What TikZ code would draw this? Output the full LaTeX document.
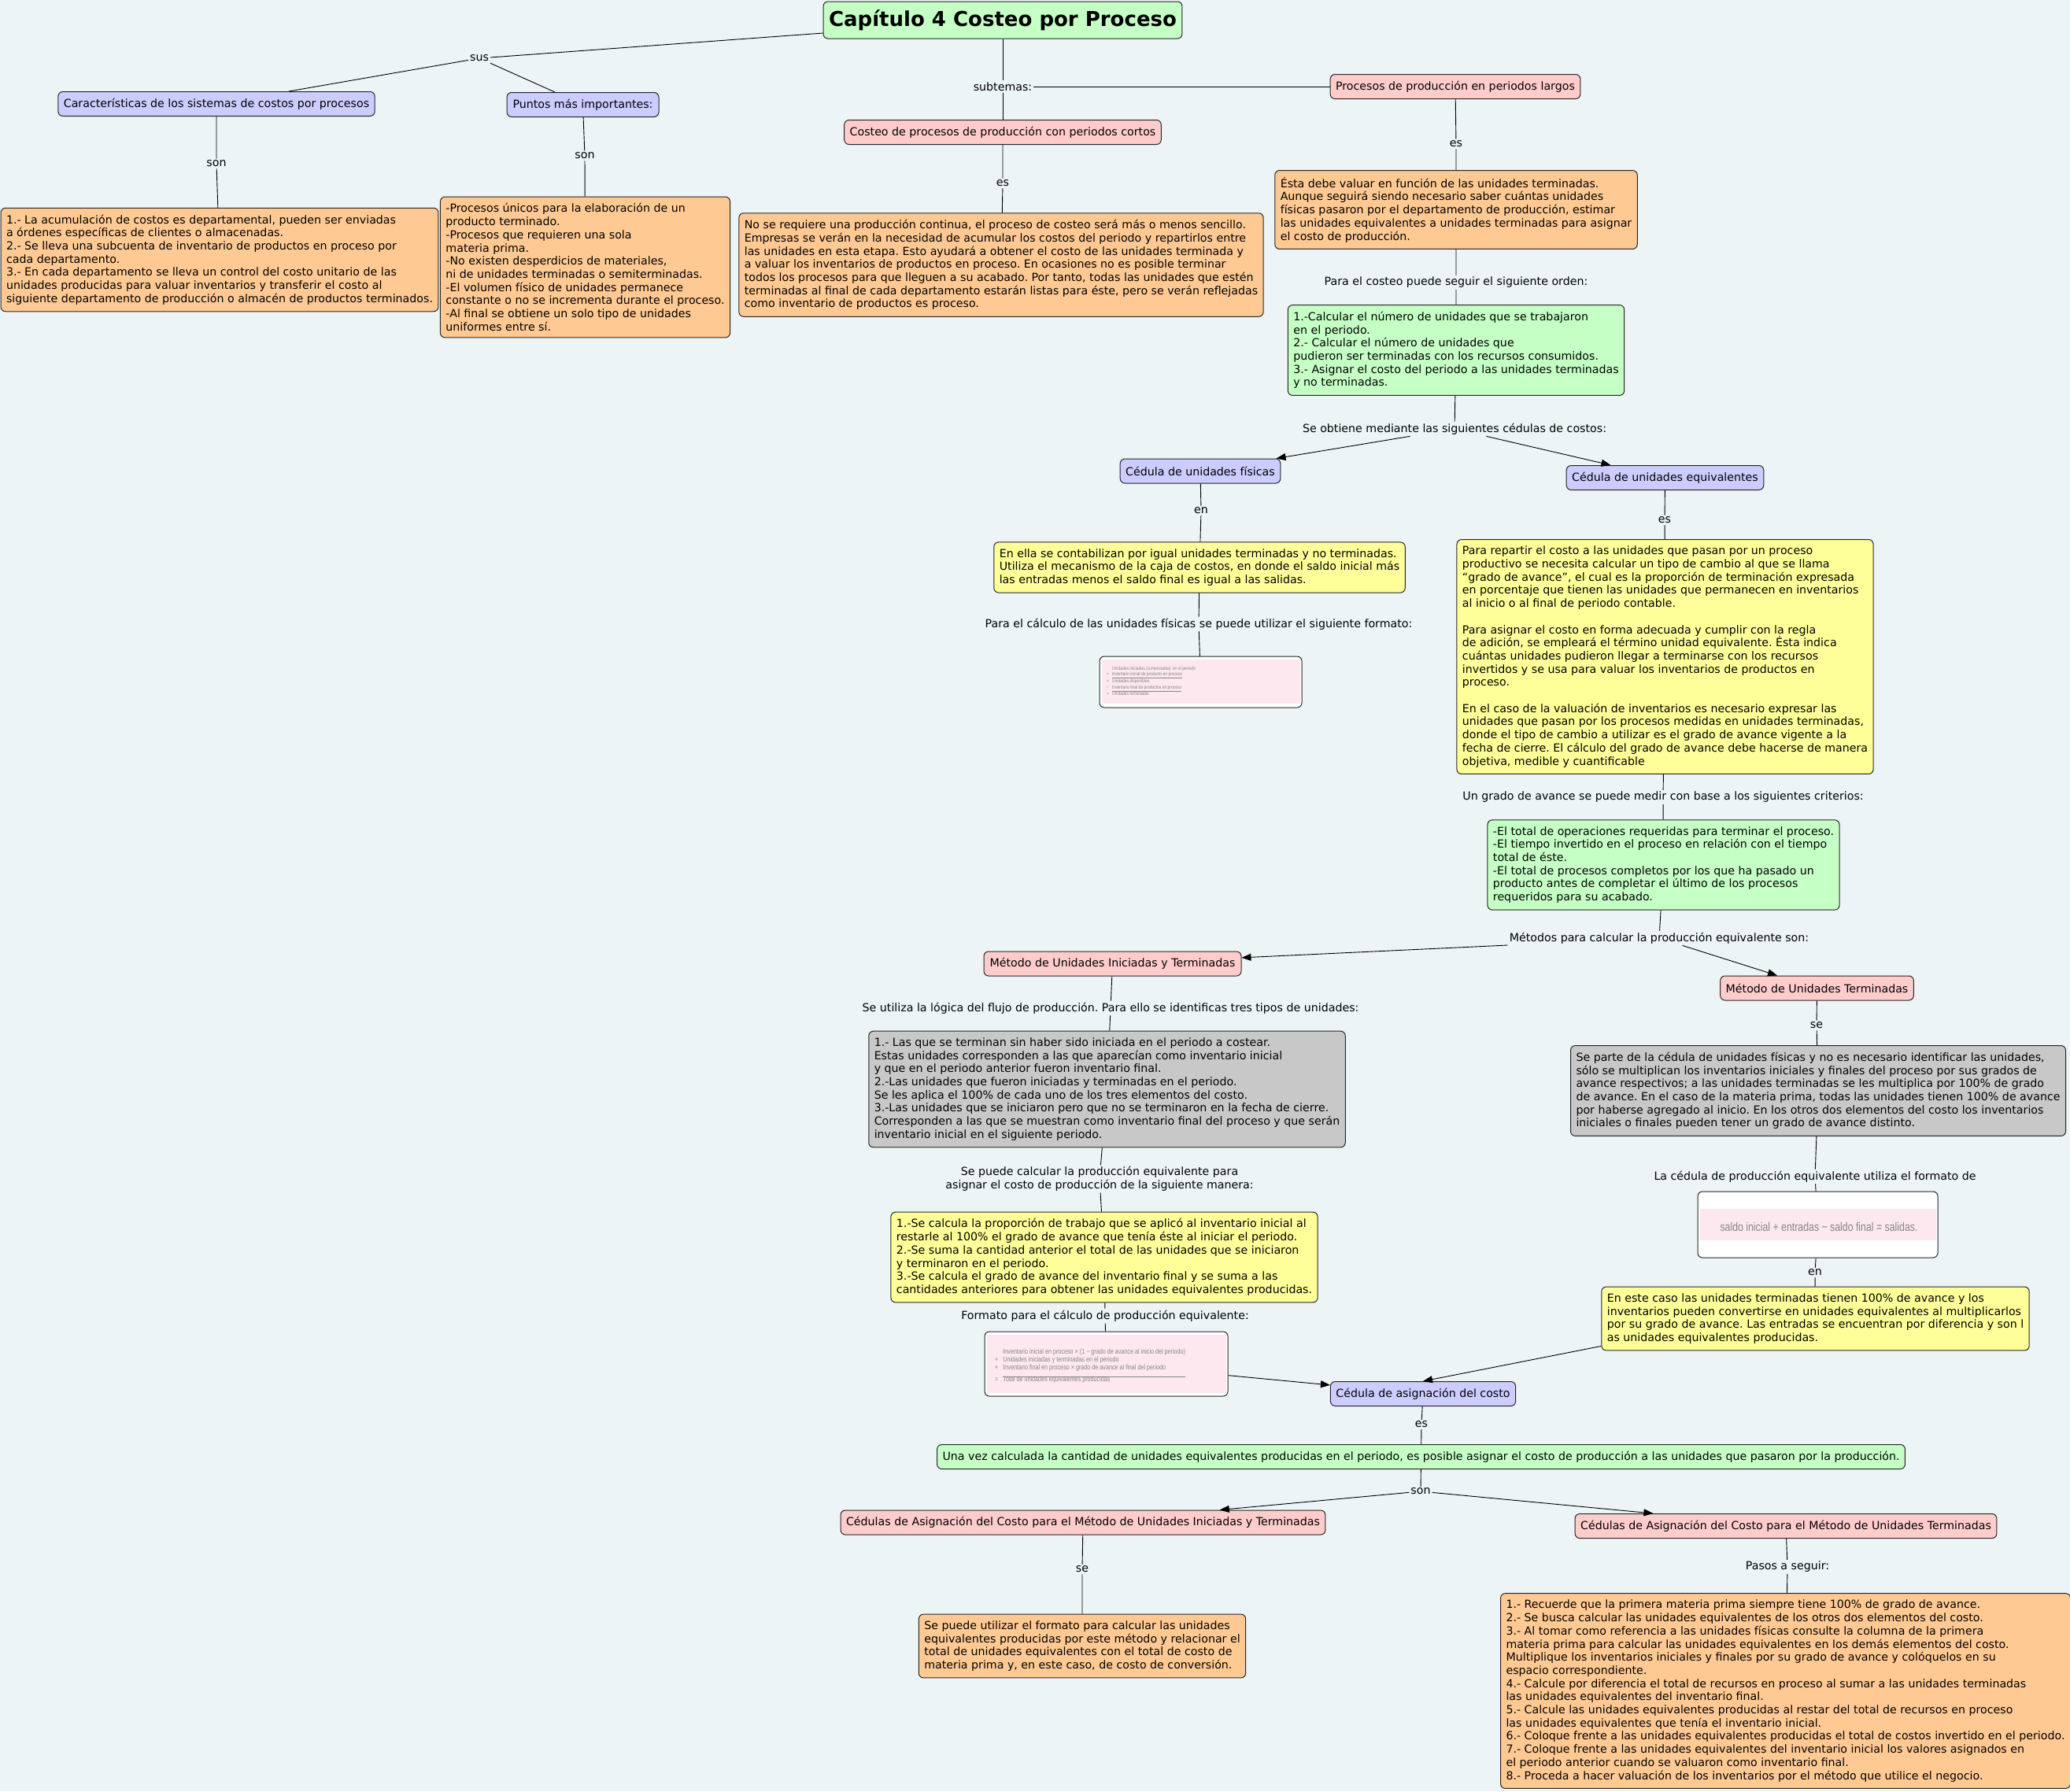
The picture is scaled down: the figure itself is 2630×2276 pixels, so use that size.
\documentclass[tikz,border=0pt]{standalone}
\usepackage{fontspec}
\setmainfont{DejaVu Sans}
\newfontfamily\imgfont[FakeStretch=0.8]{Liberation Sans}
\usetikzlibrary{arrows.meta}
\definecolor{cFondo}{RGB}{236,244,245}
\definecolor{cVerde}{RGB}{197,255,197}
\definecolor{cLila}{RGB}{204,204,255}
\definecolor{cRosa}{RGB}{255,204,204}
\definecolor{cNaranja}{RGB}{255,201,147}
\definecolor{cAmarillo}{RGB}{255,255,153}
\definecolor{cGris}{RGB}{200,200,200}
\definecolor{cRosaImg}{RGB}{252,232,238}
\definecolor{cGrisImg}{RGB}{135,135,135}
\frenchspacing
\begin{document}
\begin{tikzpicture}[x=1pt,y=-1pt,>={Triangle[length=12pt,width=9pt]},
 font={\fontsize{14.2}{16.7}\selectfont},
 caja/.style={draw=black!85,line width=1pt,rounded corners=6pt,inner xsep=7pt,inner ysep=8.5pt,align=left},
 una/.style={align=center,inner ysep=3pt,minimum height=31pt},
 verde/.style={caja,fill=cVerde},lila/.style={caja,fill=cLila},rosa/.style={caja,fill=cRosa},
 naranja/.style={caja,fill=cNaranja},amarillo/.style={caja,fill=cAmarillo},gris/.style={caja,fill=cGris},
 imagen/.style={draw=black!85,line width=1pt,rounded corners=6pt,fill=white},
 imgtexto/.style={text=cGrisImg,inner sep=0pt},
 frase/.style={inner sep=2pt,align=center},
 enlace/.style={line width=0.9pt}]
\fill[cFondo](0,0)rectangle(2630,2276);\useasboundingbox(0,0)rectangle(2630,2276);

\node[verde,font={\fontsize{26}{30}\selectfont\bfseries},minimum width=454pt,minimum height=47pt,inner ysep=2pt] (titulo) at (1274,25.5) {Capítulo 4 Costeo por Proceso};
\node[frase] (sus) at (609,74) {sus};
\node[lila,una,minimum width=400pt] (caract) at (275,132) {Características de los sistemas de costos por procesos};
\node[lila,una,minimum width=193pt] (puntos) at (740.5,133) {Puntos más importantes:};
\node[frase] (son1) at (275,208) {son};\node[frase] (son2) at (743,198) {son};
\node[naranja] (lista1) at (279,330) {1.- La acumulación de costos es departamental, pueden ser enviadas\\a órdenes específicas de clientes o almacenadas.\\2.- Se lleva una subcuenta de inventario de productos en proceso por\\cada departamento.\\3.- En cada departamento se lleva un control del costo unitario de las\\unidades producidas para valuar inventarios y transferir el costo al\\siguiente departamento de producción o almacén de productos terminados.};
\node[naranja] (lista2) at (743.5,339.5) {-Procesos únicos para la elaboración de un\\producto terminado.\\-Procesos que requieren una sola\\materia prima.\\-No existen desperdicios de materiales,\\ni de unidades terminadas o semiterminadas.\\-El volumen físico de unidades permanece\\constante o no se incrementa durante el proceso.\\-Al final se obtiene un solo tipo de unidades\\uniformes entre sí.};

\node[frase] (subtemas) at (1274,110) {subtemas:};
\node[rosa,una,minimum width=398pt] (cortos) at (1274,168) {Costeo de procesos de producción con periodos cortos};
\node[frase] (es1) at (1274,233) {es};
\node[naranja] (cortosdef) at (1272,336.5) {No se requiere una producción continua, el proceso de costeo será más o menos sencillo.\\Empresas se verán en la necesidad de acumular los costos del periodo y repartirlos entre\\las unidades en esta etapa. Esto ayudará a obtener el costo de las unidades terminada y\\a valuar los inventarios de productos en proceso. En ocasiones no es posible terminar\\todos los procesos para que lleguen a su acabado. Por tanto, todas las unidades que estén\\terminadas al final de cada departamento estarán listas para éste, pero se verán reflejadas\\como inventario de productos es proceso.};
\node[rosa,una,minimum width=314pt] (largos) at (1849,110) {Procesos de producción en periodos largos};
\node[frase] (es2) at (1850,183) {es};
\node[naranja] (largosdef) at (1850,266.5) {Ésta debe valuar en función de las unidades terminadas.\\Aunque seguirá siendo necesario saber cuántas unidades\\físicas pasaron por el departamento de producción, estimar\\las unidades equivalentes a unidades terminadas para asignar\\el costo de producción.};
\node[frase] (orden) at (1850,359) {Para el costeo puede seguir el siguiente orden:};
\node[verde] (pasoslargos) at (1850,445) {1.-Calcular el número de unidades que se trabajaron\\en el periodo.\\2.- Calcular el número de unidades que\\pudieron ser terminadas con los recursos consumidos.\\3.- Asignar el costo del periodo a las unidades terminadas\\y no terminadas.};
\node[frase] (cedulas) at (1848,545) {Se obtiene mediante las siguientes cédulas de costos:};

\node[lila,una,minimum width=198pt] (fisicas) at (1525,598.5) {Cédula de unidades físicas};
\node[frase] (en1) at (1526,649) {en};
\node[amarillo] (fisicasdef) at (1524,721) {En ella se contabilizan por igual unidades terminadas y no terminadas.\\Utiliza el mecanismo de la caja de costos, en donde el saldo inicial más\\las entradas menos el saldo final es igual a las salidas.};
\node[frase] (formato1) at (1523,793) {Para el cálculo de las unidades físicas se puede utilizar el siguiente formato:};
\node[imagen,minimum width=257pt,minimum height=65pt] (img1) at (1525.5,866.5) {};
\fill[cRosaImg]([xshift=3pt,yshift=-4pt]img1.north west)rectangle([xshift=-3pt,yshift=6pt]img1.south east);
\node[imgtexto,anchor=west,font={\imgfont\fontsize{6.2}{7.5}\selectfont}] (img1txt) at (1406,866) {\begin{tabular}{@{}l@{\hspace{4pt}}l@{}}&Unidades iniciadas (comenzadas)\ \ en el periodo\\+&\underline{Inventario inicial de producto en proceso}\\=&Unidades disponibles\\−&\underline{Inventario final de productos en proceso}\\=&Unidades terminadas\end{tabular}};

\node[lila,una,minimum width=245pt] (equiv) at (2115.5,607) {Cédula de unidades equivalentes};
\node[frase] (es3) at (2115,661) {es};
\node[amarillo] (equivdef) at (2115.5,834.5) {Para repartir el costo a las unidades que pasan por un proceso\\productivo se necesita calcular un tipo de cambio al que se llama\\“grado de avance”, el cual es la proporción de terminación expresada\\en porcentaje que tienen las unidades que permanecen en inventarios\\al inicio o al final de periodo contable.\\[16.7pt]Para asignar el costo en forma adecuada y cumplir con la regla\\de adición, se empleará el término unidad equivalente. Ésta indica\\cuántas unidades pudieron llegar a terminarse con los recursos\\invertidos y se usa para valuar los inventarios de productos en\\proceso.\\[16.7pt]En el caso de la valuación de inventarios es necesario expresar las\\unidades que pasan por los procesos medidas en unidades terminadas,\\donde el tipo de cambio a utilizar es el grado de avance vigente a la\\fecha de cierre. El cálculo del grado de avance debe hacerse de manera\\objetiva, medible y cuantificable};
\node[frase] (criterios) at (2113,1013) {Un grado de avance se puede medir con base a los siguientes criterios:};
\node[verde] (criterioslista) at (2113.5,1099) {-El total de operaciones requeridas para terminar el proceso.\\-El tiempo invertido en el proceso en relación con el tiempo\\total de éste.\\-El total de procesos completos por los que ha pasado un\\producto antes de completar el último de los procesos\\requeridos para su acabado.};
\node[frase] (metodos) at (2108,1192) {Métodos para calcular la producción equivalente son:};

\node[rosa,una,minimum width=327pt] (muit) at (1413.5,1224.5) {Método de Unidades Iniciadas y Terminadas};
\node[frase] (flujo) at (1411,1281) {Se utiliza la lógica del flujo de producción. Para ello se identificas tres tipos de unidades:};
\node[gris] (tipos) at (1406.5,1384) {1.- Las que se terminan sin haber sido iniciada en el periodo a costear.\\Estas unidades corresponden a las que aparecían como inventario inicial\\y que en el periodo anterior fueron inventario final.\\2.-Las unidades que fueron iniciadas y terminadas en el periodo.\\Se les aplica el 100\% de cada uno de los tres elementos del costo.\\3.-Las unidades que se iniciaron pero que no se terminaron en la fecha de cierre.\\Corresponden a las que se muestran como inventario final del proceso y que serán\\inventario inicial en el siguiente periodo.};
\node[frase] (manera) at (1397,1498) {Se puede calcular la producción equivalente para\\asignar el costo de producción de la siguiente manera:};
\node[amarillo] (calculo) at (1403,1597.5) {1.-Se calcula la proporción de trabajo que se aplicó al inventario inicial al\\restarle al 100\% el grado de avance que tenía éste al iniciar el periodo.\\2.-Se suma la cantidad anterior el total de las unidades que se iniciaron\\y terminaron en el periodo.\\3.-Se calcula el grado de avance del inventario final y se suma a las\\cantidades anteriores para obtener las unidades equivalentes producidas.};
\node[frase] (formato2) at (1404,1672) {Formato para el cálculo de producción equivalente:};
\node[imagen,minimum width=309pt,minimum height=82pt] (img2) at (1405.5,1733) {};
\fill[cRosaImg]([xshift=3pt,yshift=-4pt]img2.north west)rectangle([xshift=-3pt,yshift=5pt]img2.south east);
\node[imgtexto,anchor=west,font={\imgfont\fontsize{9}{10}\selectfont}] (img2txt) at (1264,1736) {\begin{tabular}{@{}l@{\hspace{6pt}}l@{}}&Inventario inicial en proceso × (1 − grado de avance al inicio del periodo)\\+&Unidades iniciadas y terminadas en el periodo\\+&Inventario final en proceso × grado de avance al final del periodo\\[5pt]\cline{2-2}=&Total de unidades equivalentes producidas\end{tabular}};

\node[rosa,una,minimum width=243pt] (mut) at (2308.5,1255.5) {Método de Unidades Terminadas};
\node[frase] (se1) at (2308,1303) {se};
\node[gris] (mutdef) at (2310,1386) {Se parte de la cédula de unidades físicas y no es necesario identificar las unidades,\\sólo se multiplican los inventarios iniciales y finales del proceso por sus grados de\\avance respectivos; a las unidades terminadas se les multiplica por 100\% de grado\\de avance. En el caso de la materia prima, todas las unidades tienen 100\% de avance\\por haberse agregado al inicio. En los otros dos elementos del costo los inventarios\\iniciales o finales pueden tener un grado de avance distinto.};
\node[frase] (formato3) at (2306,1495) {La cédula de producción equivalente utiliza el formato de};
\node[imagen,minimum width=305pt,minimum height=84pt] (img3) at (2309.5,1556) {};
\fill[cRosaImg]([xshift=3pt,yshift=20pt]img3.west)rectangle([xshift=-3pt,yshift=-20pt]img3.east);
\node[imgtexto,font={\imgfont\fontsize{15.4}{17}\selectfont}] (img3txt) at (2311,1559) {saldo inicial + entradas − saldo final = salidas.};
\node[frase] (en2) at (2306,1617) {en};
\node[amarillo] (mutcaso) at (2306.5,1675.5) {En este caso las unidades terminadas tienen 100\% de avance y los\\inventarios pueden convertirse en unidades equivalentes al multiplicarlos\\por su grado de avance. Las entradas se encuentran por diferencia y son l\\as unidades equivalentes producidas.};

\node[lila,una,minimum width=232pt] (asignacion) at (1808,1771) {Cédula de asignación del costo};
\node[frase] (es4) at (1806,1810) {es};
\node[verde,una,minimum width=1213pt] (unavez) at (1805.5,1851) {Una vez calculada la cantidad de unidades equivalentes producidas en el periodo, es posible asignar el costo de producción a las unidades que pasaron por la producción.};
\node[frase] (son3) at (1805,1895) {son};
\node[rosa,una,minimum width=612pt] (cuit) at (1376,1934.5) {Cédulas de Asignación del Costo para el Método de Unidades Iniciadas y Terminadas};
\node[rosa,una,minimum width=530pt] (cut) at (2269,1939) {Cédulas de Asignación del Costo para el Método de Unidades Terminadas};
\node[frase] (se2) at (1375,1994) {se};
\node[naranja] (cuitdef) at (1375,2091.5) {Se puede utilizar el formato para calcular las unidades\\equivalentes producidas por este método y relacionar el\\total de unidades equivalentes con el total de costo de\\materia prima y, en este caso, de costo de conversión.};
\node[frase] (pasos) at (2271,1991) {Pasos a seguir:};
\node[naranja] (pasoslista) at (2268.5,2148.5) {1.- Recuerde que la primera materia prima siempre tiene 100\% de grado de avance.\\2.- Se busca calcular las unidades equivalentes de los otros dos elementos del costo.\\3.- Al tomar como referencia a las unidades físicas consulte la columna de la primera\\materia prima para calcular las unidades equivalentes en los demás elementos del costo.\\Multiplique los inventarios iniciales y finales por su grado de avance y colóquelos en su\\espacio correspondiente.\\4.- Calcule por diferencia el total de recursos en proceso al sumar a las unidades terminadas\\las unidades equivalentes del inventario final.\\5.- Calcule las unidades equivalentes producidas al restar del total de recursos en proceso\\las unidades equivalentes que tenía el inventario inicial.\\6.- Coloque frente a las unidades equivalentes producidas el total de costos invertido en el periodo.\\7.- Coloque frente a las unidades equivalentes del inventario inicial los valores asignados en\\el periodo anterior cuando se valuaron como inventario final.\\8.- Proceda a hacer valuación de los inventarios por el método que utilice el negocio.};

\draw[enlace](titulo)--(sus)(sus)--(caract)(sus)--(puntos);
\draw[enlace](caract)--(son1)--(lista1)(puntos)--(son2)--(lista2);
\draw[enlace](titulo)--(subtemas)--(cortos)(subtemas)--(largos);
\draw[enlace](cortos)--(es1)--(cortosdef)(largos)--(es2)--(largosdef)--(orden)--(pasoslargos)--(cedulas);
\draw[enlace,->](cedulas)--(fisicas);\draw[enlace,->](cedulas)--(equiv);
\draw[enlace](fisicas)--(en1)--(fisicasdef)--(formato1)--(img1);
\draw[enlace](equiv)--(es3)--(equivdef)--(criterios)--(criterioslista)--(metodos);
\draw[enlace,->](metodos)--(muit);\draw[enlace,->](metodos)--(mut);
\draw[enlace](muit)--(flujo)--(tipos)--(manera)--(calculo)--(formato2)--(img2);
\draw[enlace](mut)--(se1)--(mutdef)--(formato3)--(img3)--(en2)--(mutcaso);
\draw[enlace,->](img2)--(asignacion);\draw[enlace,->]([yshift=6pt]mutcaso.south west)--(asignacion.north);
\draw[enlace](asignacion)--(es4)--(unavez)--(son3);
\draw[enlace,->](son3)--(cuit);\draw[enlace,->](son3)--(cut);
\draw[enlace](cuit)--(se2)--(cuitdef)(cut)--(pasos)--(pasoslista);
\end{tikzpicture}
\end{document}
